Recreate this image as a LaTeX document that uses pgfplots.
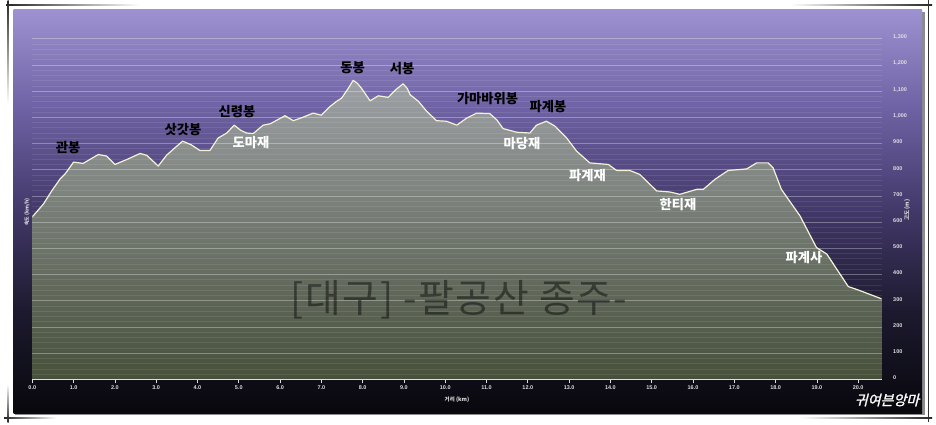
\documentclass[border=0pt]{standalone}
\usepackage{fontspec}
\setmainfont{Liberation Sans}
\newfontfamily\kr{Noto Sans CJK KR}
\newfontfamily\krw[LetterSpace=4]{Noto Sans CJK KR}
\newfontfamily\krs[FakeSlant=0.25,FakeBold=1.5]{Noto Sans CJK KR}
\usepackage{pgfplots}
\pgfplotsset{compat=1.18}
\usepackage{pgfplotstable}

\definecolor{tickcol}{RGB}{222,222,222}
\definecolor{linecol}{RGB}{242,242,212}
\definecolor{filltop}{RGB}{158,161,166}
\definecolor{fillbot}{RGB}{70,80,58}

\pgfdeclareverticalshading{panelbg}{100bp}{%
 rgb(0bp)=(0.03,0.03,0.05);
 rgb(25bp)=(0.03,0.03,0.05);
 rgb(37.5bp)=(0.11,0.10,0.18);
 rgb(50bp)=(0.26,0.22,0.41);
 rgb(62.5bp)=(0.43,0.38,0.64);
 rgb(75bp)=(0.62,0.57,0.82);
 rgb(100bp)=(0.62,0.57,0.82)}

\pgfplotstableread{
km elev
0.00 620
0.27 669
0.47 719
0.67 764
0.79 783
1.00 829
1.23 824
1.60 858
1.80 852
2.00 820
2.29 839
2.61 862
2.77 855
3.05 814
3.25 855
3.45 883
3.64 909
3.85 895
4.06 873
4.30 873
4.50 921
4.71 940
4.89 970
5.05 950
5.19 940
5.35 938
5.59 970
5.76 975
6.12 1006
6.32 987
6.55 1000
6.80 1016
7.00 1008
7.20 1040
7.37 1061
7.49 1073
7.65 1110
7.77 1141
7.87 1130
7.97 1111
8.18 1063
8.38 1082
8.62 1076
8.80 1105
8.98 1128
9.08 1110
9.15 1086
9.35 1061
9.55 1023
9.79 987
10.03 985
10.28 970
10.52 997
10.76 1016
11.08 1014
11.25 990
11.40 957
11.73 943
12.05 940
12.21 970
12.45 985
12.66 966
12.94 921
13.18 871
13.50 826
13.95 820
14.15 797
14.47 797
14.71 782
15.12 719
15.44 715
15.68 706
16.09 725
16.25 725
16.53 763
16.85 797
17.30 803
17.54 826
17.82 826
17.94 807
18.14 725
18.59 624
18.99 503
19.24 478
19.76 354
20.00 341
20.57 307
}\prof

\begin{document}
\begin{tikzpicture}[x=1bp,y=1bp]
\useasboundingbox (0,0) rectangle (936,424);
\fill[white] (0,0) rectangle (936,424);
% crop marks
\shade[left color=black!85, right color=white] (6,418.5) rectangle (140,419.6);
\shade[top color=black!85, bottom color=white] (7.5,424) rectangle (8.6,320);
\shade[bottom color=black!85, top color=white] (7.5,2) rectangle (8.6,40);
\shade[left color=black!85, right color=white] (4,5.5) rectangle (56,6.6);
\shade[right color=black!85, left color=white] (790,418.5) rectangle (932,419.6);
\fill[black!80] (927.5,424) rectangle (928.6,2);
\shade[right color=black!85, left color=white] (800,5.5) rectangle (932,6.6);
% panel
\fill[black!45] (15,9) rectangle (924.5,412);
\shade[shading=panelbg] (13.5,11) rectangle (922,414);

\begin{axis}[
  at={(32.3bp,44.7bp)}, anchor=south west, scale only axis,
  width=849.4bp, height=340.6bp,
  xmin=0, xmax=20.57, ymin=0, ymax=1300,
  axis on top,
  axis x line*=bottom, axis y line*=right,
  x axis line style={-, draw=tickcol, line width=0.8bp},
  y axis line style={draw=none},
  xtick={0,1,...,20},
  ytick={0,100,...,1300},
  minor y tick num=4,
  ymajorgrids, yminorgrids,
  major grid style={draw=white, opacity=0.32, line width=0.7bp},
  minor grid style={draw=white, opacity=0.09, line width=0.6bp},
  tick align=outside,
  major tick length=4bp,
  minor tick length=0pt,
  xtick style={draw=tickcol, line width=0.7bp},
  ytick style={draw=none},
  /pgf/number format/assume math mode=true,
  xticklabel={\pgfmathprintnumber[fixed,fixed zerofill,precision=1]{\tick}},
  yticklabel={\pgfmathprintnumber[fixed,precision=0,1000 sep={,}]{\tick}},
  ticklabel style={font=\fontsize{5.5}{6}\selectfont\bfseries, text=tickcol},
  xticklabel style={yshift=1bp},
  yticklabel style={anchor=west, xshift=4bp, yshift=1.5bp},
]
\addplot[draw=none, top color=filltop, bottom color=fillbot] table[x=km,y=elev]{\prof} \closedcycle;
\addplot[draw=linecol, line width=1.2bp, line join=round, mark=none] table[x=km,y=elev]{\prof};
\end{axis}

% watermark
\node[text=black, opacity=0.45, font=\krw\fontsize{39}{42}\selectfont] at (459,124) {[대구] -팔공산 종주-};

% peak labels (black)
\begin{scope}[every node/.style={font=\kr\bfseries\fontsize{13.3}{15}\selectfont, text=black, inner sep=0pt}]
\node at (68,276) {관봉};
\node at (183,294) {삿갓봉};
\node at (237,312) {신령봉};
\node at (352.5,356.5) {동봉};
\node at (402,355) {서봉};
\node at (487.5,325) {가마바위봉};
\node at (548,317) {파계봉};
\end{scope}
% pass labels (white)
\begin{scope}[every node/.style={font=\kr\bfseries\fontsize{13.3}{15}\selectfont, text=white, inner sep=0pt}]
\node at (251,281) {도마재};
\node at (522,280) {마당재};
\node at (587.5,248) {파계재};
\node at (678,219) {한티재};
\node at (804,166.5) {파계사};
\end{scope}

% axis titles
\node[text=tickcol, font=\kr\bfseries\fontsize{5.5}{6}\selectfont] at (457,24) {거리 (km)};
\node[text=tickcol, rotate=90, font=\kr\bfseries\fontsize{5}{6}\selectfont] at (27,212) {속도 (km/h)};
\node[text=tickcol, rotate=90, font=\kr\bfseries\fontsize{5.5}{6}\selectfont] at (907,214) {고도 (m)};

% signature
\node[text=white, font=\krs\fontsize{14}{16}\selectfont] at (887,24) {귀여븐앙마};
\end{tikzpicture}
\end{document}
